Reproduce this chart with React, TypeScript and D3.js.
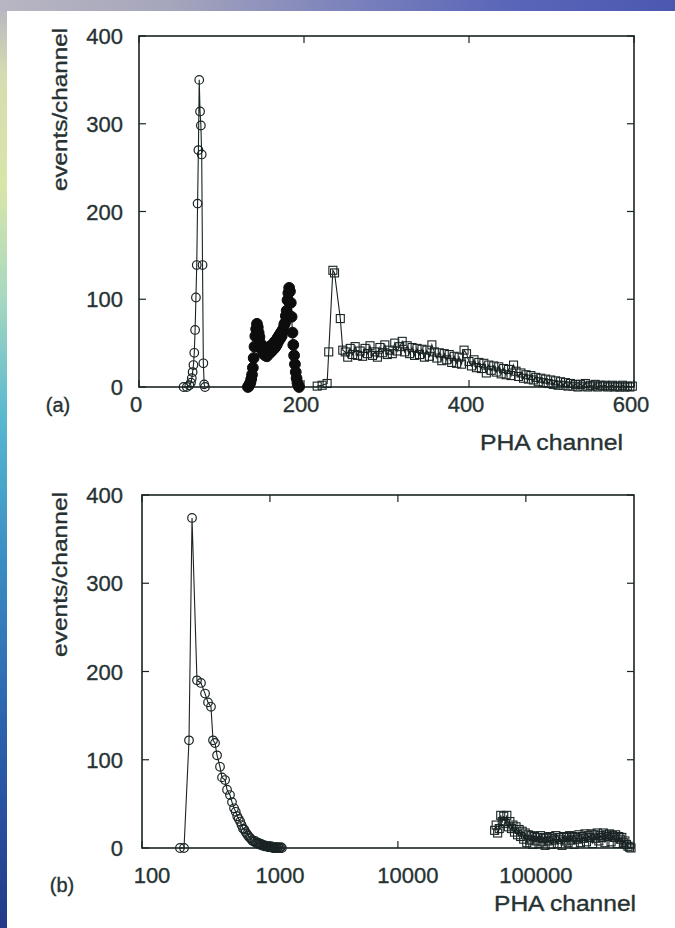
import React from "react";
import * as d3 from "d3";

const W = 675;
const H = 928;

// ---------- Panel (a) data (linear PHA channel) ----------
const aOpenCircleCh = [54, 58, 61, 63, 64, 65, 66, 67, 68, 69, 70, 71, 72, 73, 74, 75, 76, 77, 78, 79, 80];
const aOpenCircleVal = [0, 0, 2, 5, 10, 17, 25, 39, 65, 102, 139, 209, 270, 350, 314, 298, 265, 139, 27, 3, 0];

const aFilledCh = [132, 133, 134, 135, 136, 137, 138, 139, 140, 141, 142, 143, 144, 145, 146, 147, 148, 149, 150, 151, 152, 153, 154, 155, 156, 157, 158, 159, 160, 161, 162, 163, 164, 165, 166, 167, 168, 169, 170, 171, 172, 173, 174, 175, 176, 177, 178, 179, 180, 181, 182, 183, 184, 185, 186, 187, 188, 189, 190, 191, 192, 193, 194];
const aFilledVal = [0, 1, 3, 5, 9, 14, 22, 33, 46, 58, 66, 72, 68, 62, 57, 50, 48, 42, 45, 38, 44, 36, 42, 35, 43, 38, 46, 39, 47, 41, 48, 43, 51, 45, 53, 48, 56, 52, 59, 55, 62, 58, 65, 64, 71, 73, 81, 87, 99, 107, 113, 109, 96, 80, 62, 48, 36, 26, 17, 10, 5, 2, 0];

const aSquareCh = [216, 222, 228, 230, 235, 237, 244, 247,
  250, 253, 256, 259, 262, 265, 268, 271, 274, 277, 280, 283, 286, 289, 292, 295, 298, 301, 304, 307, 310, 313, 316, 319,
  322, 325, 328, 331, 334, 337, 340, 343, 346, 349, 352, 355, 358, 361, 364, 367, 370, 373, 376, 379, 382, 385, 388, 391,
  394, 397, 400, 403, 406, 409, 412, 415, 418, 421, 424, 427, 430, 433, 436, 439, 442, 445, 448, 451, 454, 457, 460, 463,
  466, 469, 472, 475, 478, 481, 484, 487, 490, 493, 496, 499, 502, 505, 508, 511, 514, 517, 520, 523, 526, 529, 532, 535,
  538, 541, 544, 547, 550, 553, 556, 559, 562, 565, 568, 571, 574, 577, 580, 583, 586, 589, 592, 595, 598];
const aSquareVal = [1, 2, 4, 40, 133, 130, 78, 42,
  40, 34, 44, 37, 46, 36, 41, 35, 44, 38, 47, 36, 40, 34, 45, 39, 48, 37, 42, 38, 50, 41, 46, 52,
  40, 47, 38, 45, 36, 44, 37, 43, 34, 42, 35, 48, 40, 33, 39, 30, 38, 31, 37, 28, 35, 27, 34, 26,
  42, 38, 29, 24, 31, 22, 28, 21, 27, 16, 25, 19, 24, 17, 23, 15, 21, 14, 20, 13, 25, 18, 12, 16,
  10, 14, 9, 13, 8, 11, 6, 10, 5, 9, 4, 8, 3, 7, 2, 6, 2, 5, 1, 4, 1, 3, 0, 3,
  1, 4, 0, 2, 1, 3, 0, 2, 1, 2, 0, 1, 2, 0, 1, 0, 2, 0, 1, 0, 1];

// ---------- Panel (b) data (log PHA channel) ----------
const bCircleCh = [198, 213, 233, 246, 269, 289, 311, 328, 346, 359, 372, 386, 407, 422, 446, 462, 487, 505, 524,
  540, 555, 570, 585, 600, 615, 630, 645, 660, 675, 690, 705, 720, 735, 750, 765, 780, 795, 810, 825, 840, 855, 870,
  885, 900, 915, 930, 945, 960, 975, 990, 1005, 1020, 1035, 1050, 1065, 1080, 1095, 1110, 1125, 1140, 1160, 1180, 1200, 1220, 1240];
const bCircleVal = [0, 0, 122, 374, 190, 187, 175, 165, 160, 122, 119, 105, 92, 80, 77, 66, 60, 52, 45,
  41, 36, 33, 30, 26, 22, 21, 18, 16, 14, 12, 11, 9, 8, 7, 8, 6, 5, 6, 4, 5, 3, 4,
  3, 2, 3, 2, 2, 1, 2, 1, 1, 2, 1, 0, 1, 0, 1, 0, 1, 0, 1, 0, 0, 1, 0];

const bSquareCh = [57000, 58600, 60200, 61900, 63600, 65400, 67200, 69100, 71000, 73000, 75000, 77100, 79300, 81500, 83800,
  86100, 88500, 91000, 93500, 96100, 98800, 101600, 104400, 107300, 110300, 113400, 116600, 119900, 123200, 126700, 130200,
  133800, 137600, 141400, 145400, 149400, 153600, 157900, 162300, 166900, 171500, 176300, 181300, 186300, 191600, 196900,
  202400, 208100, 213900, 219900, 226100, 232400, 238900, 245600, 252500, 259500, 266800, 274300, 281900, 289800, 297900,
  306300, 314900, 323700, 332700, 342000, 351600, 361500, 371600, 382000, 392700, 403700, 415000, 426600, 438500, 450800,
  463400, 476400, 489800, 503500, 517600, 532100, 547000, 562300, 578000, 594200, 610800, 627900, 645500, 663000];
const bSquareVal = [20, 26, 17, 22, 37, 30, 36, 28, 37, 24, 30, 22, 26, 18, 24,
  15, 21, 13, 19, 10, 17, 6, 15, 9, 14, 4, 13, 8, 12, 5, 14,
  7, 11, 3, 12, 8, 13, 4, 11, 9, 14, 5, 12, 10, 3,
  13, 8, 12, 6, 14, 9, 13, 4, 12, 10, 15, 6, 13, 11, 16,
  7, 14, 12, 16, 5, 15, 11, 17, 8, 14, 12, 17, 6, 15, 13,
  16, 7, 14, 12, 15, 5, 13, 10, 12, 6, 8, 4, 2, 1, 0];

// ---------- Axis ticks & labels ----------
const yTicks = [0, 100, 200, 300, 400];
const aXTicks = [0, 200, 400, 600];
const bXTicks = [100, 1000, 10000, 100000];
const yTitle = "events/channel";
const xTitle = "PHA channel";
const panelTags = ["(a)", "(b)"];

const INK = "#1a2424";
const TEXT = "#263232";
const FONT = "'Liberation Sans', Arial, Helvetica, sans-serif";
const TS = { fill: TEXT, fontFamily: FONT, stroke: TEXT, strokeWidth: 0.35 } as const;

type Sc = (v: number) => number;

function Frame({ x, y, xt, yt, fmtX, xLabelDx, xLabelBase, tick = 7 }: {
  x: any; y: any; xt: number[]; yt: number[]; fmtX: (v: number) => string; xLabelDx: number; xLabelBase: number; tick?: number;
}) {
  const [x0, x1] = x.range();
  const [y0, y1] = y.range();
  return (
    <g>
      <rect x={x0} y={y1} width={x1 - x0} height={y0 - y1} fill="none" stroke={INK} strokeWidth={1.6} />
      {xt.map((t) => (
        <g key={"xt" + t}>
          <line x1={x(t)} x2={x(t)} y1={y0} y2={y0 - tick} stroke={INK} strokeWidth={1.2} />
          <line x1={x(t)} x2={x(t)} y1={y1} y2={y1 + tick} stroke={INK} strokeWidth={1.2} />
          <text x={x(t) + xLabelDx} y={xLabelBase} textAnchor="middle" fontSize={22} {...TS}>{fmtX(t)}</text>
        </g>
      ))}
      {yt.map((t) => (
        <g key={"yt" + t}>
          <line x1={x0} x2={x0 + tick} y1={y(t)} y2={y(t)} stroke={INK} strokeWidth={1.2} />
          <line x1={x1} x2={x1 - tick} y1={y(t)} y2={y(t)} stroke={INK} strokeWidth={1.2} />
          <text x={123} y={y(t) + 8} textAnchor="end" fontSize={22} {...TS}>{t}</text>
        </g>
      ))}
    </g>
  );
}

function Series({ xs, vs, x, y, marker }: { xs: number[]; vs: number[]; x: Sc; y: Sc; marker: "open" | "filled" | "square" }) {
  const pts = xs.map((c, i) => [x(c), y(vs[i])] as [number, number]);
  const path = d3.line()(pts) || "";
  return (
    <g>
      <path d={path} fill="none" stroke={INK} strokeWidth={1.1} />
      {pts.map(([px, py], i) => {
        if (marker === "open") return <circle key={i} cx={px} cy={py} r={4.3} fill="none" stroke={INK} strokeWidth={1.2} />;
        if (marker === "filled") return <circle key={i} cx={px} cy={py} r={5.4} fill="#0d0d0d" stroke="#0d0d0d" strokeWidth={1} />;
        return <rect key={i} x={px - 4} y={py - 4} width={8} height={8} fill="none" stroke={INK} strokeWidth={1.1} />;
      })}
    </g>
  );
}

export default function App() {
  const xA = d3.scaleLinear().domain([0, 600]).range([139, 634]);
  const yA = d3.scaleLinear().domain([0, 400]).range([387, 36]);
  const xB = d3.scaleLog().domain([100, 700000]).range([142, 634]);
  const yB = d3.scaleLinear().domain([0, 400]).range([848, 495]);

  return (
    <svg width={W} height={H} style={{ position: "fixed", left: 0, top: 0 }} xmlns="http://www.w3.org/2000/svg">
      <defs>
        <linearGradient id="leftBg" x1="0" y1="0" x2="0" y2="1">
          <stop offset="0" stopColor="#b4b2c2" />
          <stop offset="0.08" stopColor="#d6dcb0" />
          <stop offset="0.2" stopColor="#d8e6a8" />
          <stop offset="0.32" stopColor="#a8d8c0" />
          <stop offset="0.45" stopColor="#58b8d0" />
          <stop offset="0.6" stopColor="#3a8ec4" />
          <stop offset="0.78" stopColor="#2c62ae" />
          <stop offset="1" stopColor="#233a8a" />
        </linearGradient>
        <linearGradient id="topBg" x1="0" y1="0" x2="1" y2="0">
          <stop offset="0" stopColor="#b8b6c2" />
          <stop offset="0.25" stopColor="#a6a6bc" />
          <stop offset="0.5" stopColor="#7e84bc" />
          <stop offset="0.75" stopColor="#5a66b8" />
          <stop offset="1" stopColor="#4a58b0" />
        </linearGradient>
      </defs>
      <rect x={0} y={0} width={W} height={H} fill="url(#leftBg)" />
      <rect x={0} y={0} width={W} height={11} fill="url(#topBg)" />
      <rect x={7} y={11} width={W - 7} height={H - 11} fill="#ffffff" />

      {/* Panel (a) */}
      <Frame x={xA} y={yA} xt={aXTicks} yt={yTicks} fmtX={(v) => String(v)} xLabelDx={-3} xLabelBase={412} />
      <Series xs={aOpenCircleCh} vs={aOpenCircleVal} x={xA} y={yA} marker="open" />
      <Series xs={aFilledCh} vs={aFilledVal} x={xA} y={yA} marker="filled" />
      <Series xs={aSquareCh} vs={aSquareVal} x={xA} y={yA} marker="square" />
      <text x={623} y={450} textAnchor="end" fontSize={22} {...TS} textLength={143} lengthAdjust="spacingAndGlyphs">{xTitle}</text>
      <text transform="translate(67,28) rotate(-90)" textAnchor="end" fontSize={21} {...TS} textLength={163} lengthAdjust="spacingAndGlyphs">{yTitle}</text>
      <text x={58} y={412} textAnchor="middle" fontSize={20} {...TS}>{panelTags[0]}</text>

      {/* Panel (b) */}
      <Frame x={xB} y={yB} xt={bXTicks} yt={yTicks} fmtX={(v) => String(v)} xLabelDx={10} xLabelBase={883} />
      <Series xs={bCircleCh} vs={bCircleVal} x={xB} y={yB} marker="open" />
      <Series xs={bSquareCh} vs={bSquareVal} x={xB} y={yB} marker="square" />
      <text x={636} y={911} textAnchor="end" fontSize={22} {...TS} textLength={142} lengthAdjust="spacingAndGlyphs">{xTitle}</text>
      <text transform="translate(67,492) rotate(-90)" textAnchor="end" fontSize={21} {...TS} textLength={165} lengthAdjust="spacingAndGlyphs">{yTitle}</text>
      <text x={62} y={892} textAnchor="middle" fontSize={20} {...TS}>{panelTags[1]}</text>
    </svg>
  );
}
